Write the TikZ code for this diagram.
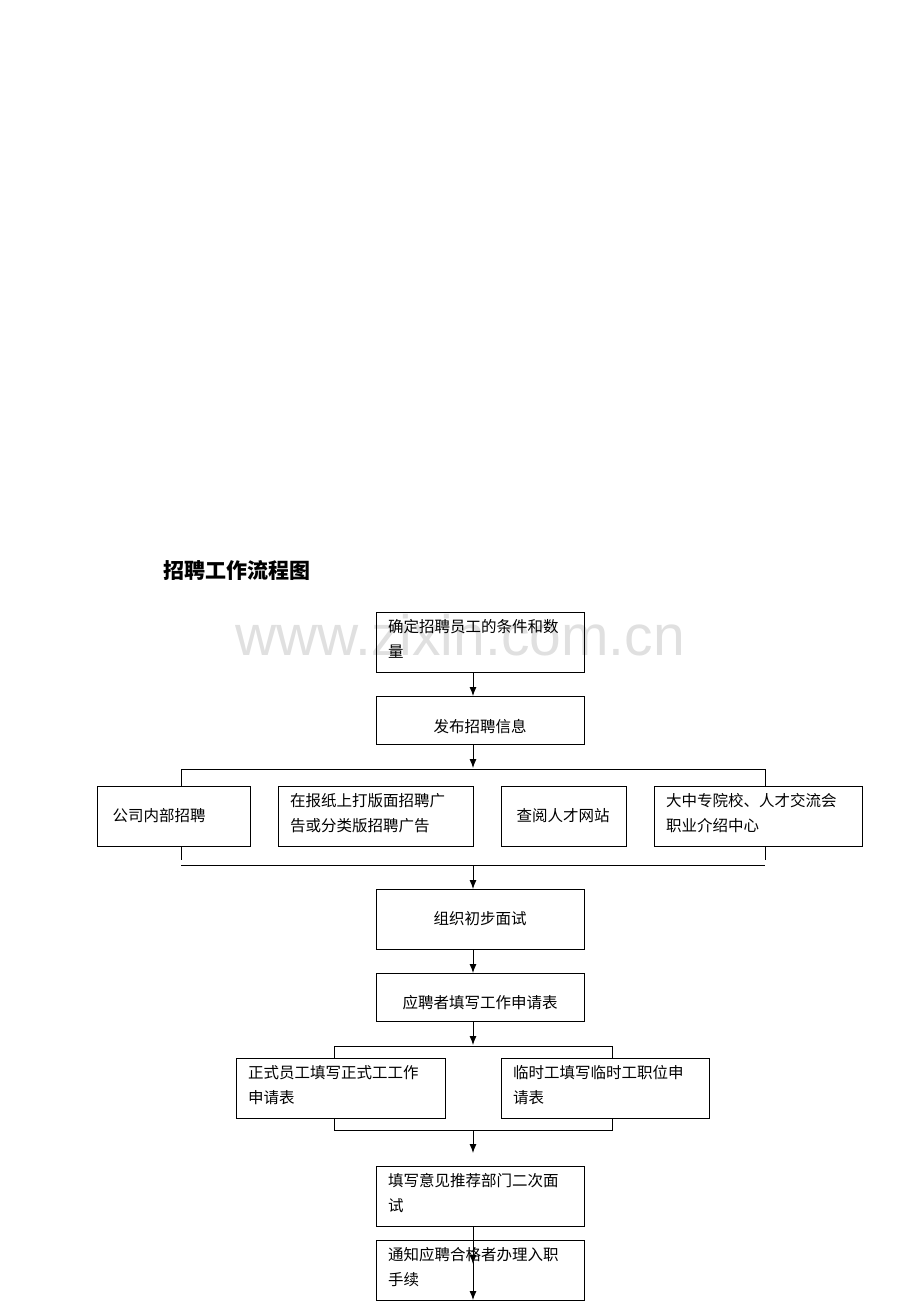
\documentclass[tikz,border=0pt]{standalone}
\usepackage{fontspec}
\setmainfont{Liberation Serif}
\newfontfamily\cjk{Noto Sans CJK SC}
\newfontfamily\wm{Liberation Sans}
\begin{document}
\begin{tikzpicture}[x=1pt,y=-1pt,
  box/.style={draw,line width=0.8pt,inner sep=0pt},
  txt/.style={font=\cjk\fontsize{15.5}{25}\selectfont,align=left,anchor=north west,inner sep=0pt},
  ctxt/.style={font=\cjk\fontsize{15.5}{20}\selectfont},
  arr/.style={line width=0.9pt,-{Latex[length=9pt,width=7pt]}},
  ln/.style={line width=0.8pt}]
\usetikzlibrary{arrows.meta}
\useasboundingbox (0,0) rectangle (920,1302);
\node[font=\wm\fontsize{57}{57}\selectfont,text=black!12] (wm) at (460,635) {www.zixin.com.cn};
\node[font=\cjk\bfseries\fontsize{21}{21}\selectfont,anchor=west] (title) at (160,570) {招聘工作流程图};
% boxes
\draw[box] (376,612) rectangle (584,672);
\node[txt] (t1) at (388,619) {确定招聘员工的条件和数\\量};
\draw[box] (376,696) rectangle (584,744);
\node[ctxt] (t2) at (480,727) {发布招聘信息};
\draw[box] (97,786) rectangle (250,846);
\node[ctxt,anchor=west] (ta) at (109,816) {公司内部招聘};
\draw[box] (278,786) rectangle (473,846);
\node[txt] (tb) at (290,793) {在报纸上打版面招聘广\\告或分类版招聘广告};
\draw[box] (501,786) rectangle (626,846);
\node[ctxt] (tc) at (563,816) {查阅人才网站};
\draw[box] (654,786) rectangle (862,846);
\node[txt] (td) at (666,793) {大中专院校、人才交流会\\职业介绍中心};
\draw[box] (376,889) rectangle (584,949);
\node[ctxt] (t3) at (480,919) {组织初步面试};
\draw[box] (376,973) rectangle (584,1021);
\node[ctxt] (t4) at (480,1003) {应聘者填写工作申请表};
\draw[box] (236,1058) rectangle (445,1118);
\node[txt] (te) at (248,1065) {正式员工填写正式工工作\\申请表};
\draw[box] (501,1058) rectangle (709,1118);
\node[txt] (tf) at (513,1065) {临时工填写临时工职位申\\请表};
\draw[box] (376,1166) rectangle (584,1226);
\node[txt] (t5) at (388,1173) {填写意见推荐部门二次面\\试};
\draw[box] (376,1240) rectangle (584,1300);
\node[txt] (t6) at (388,1247) {通知应聘合格者办理入职\\手续};
% connectors
\draw[arr] (473,672) -- (473,696);
\draw[arr] (473,744) -- (473,768);
\draw[ln] (181,786) -- (181,769) -- (765,769) -- (765,786);
\draw[ln] (181,846) -- (181,860);
\draw[ln] (765,846) -- (765,860);
\draw[ln] (181,865) -- (765,865);
\draw[arr] (473,865) -- (473,889);
\draw[arr] (473,949) -- (473,973);
\draw[arr] (473,1021) -- (473,1045);
\draw[ln] (334,1058) -- (334,1046) -- (612,1046) -- (612,1058);
\draw[ln] (334,1118) -- (334,1130) -- (612,1130) -- (612,1118);
\draw[arr] (473,1130) -- (473,1153);
\draw[arr] (473,1226) -- (473,1264);
\draw[arr] (473,1262) -- (473,1300);
\end{tikzpicture}
\end{document}
